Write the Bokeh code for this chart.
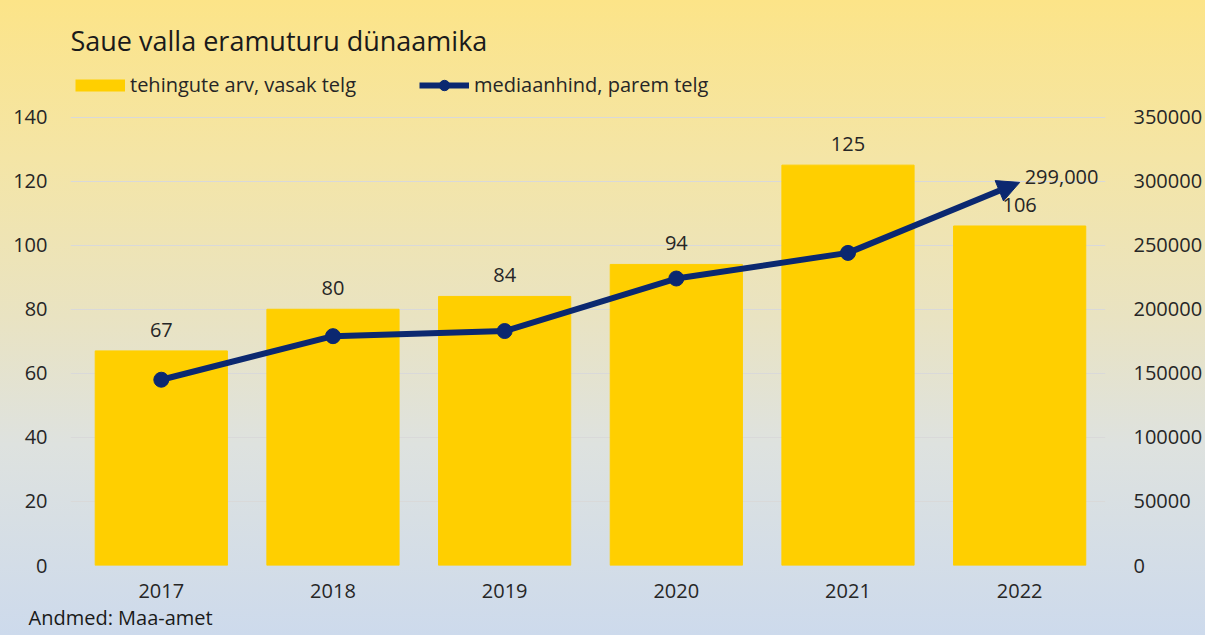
from bokeh.plotting import figure
from bokeh.models import (ColumnDataSource, Range1d, LinearAxis, FixedTicker, Label,
                          LabelSet, Arrow, NormalHead, Legend, LegendItem, Title)
from bokeh.core.properties import value
from bokeh.embed import file_html
from bokeh.resources import INLINE

years = ["2017", "2018", "2019", "2020", "2021", "2022"]
counts = [67, 80, 84, 94, 125, 106]
prices = [145000, 179000, 183000, 224000, 244000, 299000]
left_ticks = [0, 20, 40, 60, 80, 100, 120, 140]
right_ticks = [0, 50000, 100000, 150000, 200000, 250000, 300000, 350000]

FONT = "Open Sans"
TXT = "#262626"
BAR = "#FFCF00"
NAVY = "#0B2870"
FS = "20px"

W, H = 1205, 635
FRAME_BOTTOM = 567          # pixel row of the zero line
AXIS_PX = 450               # pixels spanned by 0..140
LEFT, RIGHT = 70, 1110
stretch = FRAME_BOTTOM / AXIS_PX   # frame extends to the top of the canvas
cat_px = (RIGHT - 75) / len(years)

xs = [i + 0.5 for i in range(len(years))]

p = figure(width=W, height=H, output_backend="svg", toolbar_location=None,
           x_range=Range1d(-(75 - LEFT) / cat_px, len(years)),
           y_range=Range1d(0, left_ticks[-1] * stretch),
           min_border_left=LEFT, min_border_right=W - RIGHT, min_border_top=0,
           min_border_bottom=H - FRAME_BOTTOM)
p.extra_y_ranges = {"price": Range1d(0, right_ticks[-1] * stretch)}
p.styles = {"background": "linear-gradient(180deg, #FCE488 0%, #F4E5A6 25%, #E9E3C2 50%, #DEE2DF 70%, #CDDAEC 100%)"}
p.background_fill_color = None
p.border_fill_color = None
p.outline_line_color = None

src = ColumnDataSource(dict(x=xs, count=counts, price=prices, lab=[str(c) for c in counts]))
bars = p.vbar(x="x", top="count", width=0.77, source=src, color=BAR)

line_src = ColumnDataSource(dict(x=xs[:-1], price=prices[:-1]))
ln = p.line(x="x", y="price", source=line_src, line_color=NAVY, line_width=6, y_range_name="price")
sc = p.scatter(x="x", y="price", source=line_src, size=15, fill_color=NAVY, line_color=NAVY,
               y_range_name="price")
p.add_layout(Arrow(x_start=xs[-2], y_start=prices[-2], x_end=xs[-1], y_end=prices[-1],
                   line_color=NAVY, line_width=6, y_range_name="price",
                   end=NormalHead(size=22, fill_color=NAVY, line_color=NAVY)))

# legend swatch for the bars: a thick flat yellow stroke (single point, draws nothing in the plot)
bar_key = p.line(x=[xs[0]], y=[0], line_color=BAR, line_width=12, line_cap="butt")

p.add_layout(LabelSet(x="x", y="count", text="lab", source=src, y_offset=21,
                      text_align="center", text_baseline="middle", text_font=value(FONT),
                      text_font_size=FS, text_color=TXT))
p.add_layout(Label(x=xs[-1], y=prices[-1], text=f"{prices[-1]:,}", y_range_name="price",
                   x_offset=5, y_offset=5, text_align="left", text_baseline="middle",
                   text_font=FONT, text_font_size=FS, text_color=TXT))

# axes
p.xaxis.ticker = FixedTicker(ticks=xs)
p.xaxis.major_label_overrides = {x: y for x, y in zip(xs, years)}
p.yaxis.ticker = FixedTicker(ticks=left_ticks)
ra = LinearAxis(y_range_name="price", ticker=FixedTicker(ticks=right_ticks))
ra.formatter.use_scientific = False
p.add_layout(ra, "right")
for ax in [p.xaxis[0], p.yaxis[0], ra]:
    ax.axis_line_color = None
    ax.major_tick_line_color = None
    ax.minor_tick_line_color = None
    ax.major_label_text_font = FONT
    ax.major_label_text_font_size = FS
    ax.major_label_text_color = TXT
p.xaxis.major_label_standoff = 12
p.yaxis[0].major_label_standoff = 17
ra.major_label_standoff = 22
p.xgrid.grid_line_color = None
p.ygrid.grid_line_color = "#D9D9D9"
p.ygrid.grid_line_width = 1

# footnote (below the x axis)
p.add_layout(Title(text="Andmed: Maa-amet", align="left", offset=-(LEFT - 28), standoff=6,
                   vertical_align="top",
                   text_font=FONT, text_font_size=FS, text_font_style="normal",
                   text_color="#1A1A1A"), "below")

legend = Legend(items=[LegendItem(label="tehingute arv, vasak telg", renderers=[bar_key]),
                       LegendItem(label="mediaanhind, parem telg", renderers=[ln, sc])],
                orientation="horizontal", location=(5, FRAME_BOTTOM - 85 - 15),
                background_fill_alpha=0, border_line_color=None,
                glyph_width=50, glyph_height=26, label_standoff=5, spacing=63,
                label_text_font=FONT, label_text_font_size=FS, label_text_color=TXT,
                padding=0, margin=0)
p.add_layout(legend, "center")

p.add_layout(Label(x=0, y=FRAME_BOTTOM - 42, x_units="screen", y_units="screen",
                   text="Saue valla eramuturu dünaamika", text_baseline="middle",
                   text_font=FONT, text_font_size="27px", text_color="#1A1A1A"))

open("out.html", "w").write(file_html(p, INLINE))
